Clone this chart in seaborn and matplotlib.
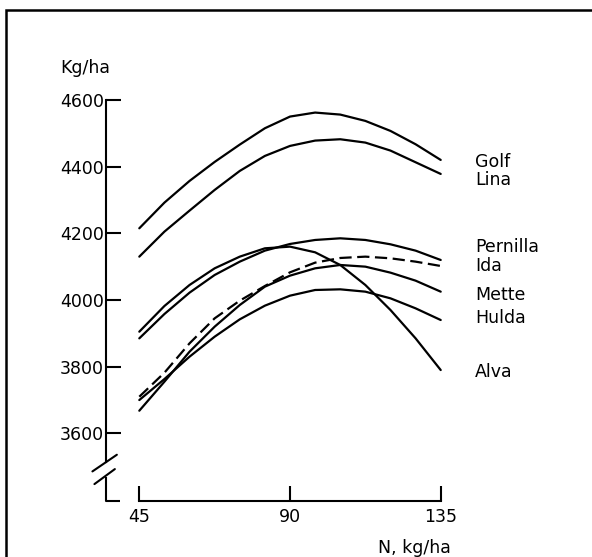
import numpy as np
import pandas as pd
import matplotlib
matplotlib.use("Agg")
import matplotlib.pyplot as plt
import seaborn as sns
from matplotlib.patches import Rectangle

sns.set_theme(style="white")
plt.rcParams['font.family'] = ['DejaVu Sans']

# nitrogen dose, kg/ha
n_dose = [45, 52.5, 60, 67.5, 75, 82.5, 90, 97.5, 105, 112.5, 120, 127.5, 135]

# yield curves, kg/ha
golf = [4215, 4292, 4357, 4414, 4466, 4515, 4550, 4562, 4556, 4537, 4507, 4467, 4420]
lina = [4130, 4205, 4268, 4330, 4387, 4432, 4462, 4478, 4482, 4472, 4448, 4413, 4378]
pernilla = [3885, 3958, 4022, 4075, 4115, 4148, 4168, 4180, 4185, 4180, 4167, 4148, 4120]
ida = [3710, 3782, 3870, 3945, 3998, 4042, 4083, 4112, 4126, 4130, 4125, 4115, 4102]
mette = [3668, 3755, 3845, 3920, 3985, 4040, 4073, 4095, 4105, 4100, 4082, 4058, 4025]
hulda = [3700, 3763, 3830, 3890, 3942, 3983, 4013, 4030, 4032, 4025, 4005, 3975, 3940]
alva = [3905, 3982, 4045, 4095, 4130, 4155, 4160, 4143, 4105, 4045, 3970, 3885, 3790]

varieties = ["Golf", "Lina", "Pernilla", "Ida", "Mette", "Hulda", "Alva"]
series = [golf, lina, pernilla, ida, mette, hulda, alva]
label_y = [4415, 4360, 4160, 4102, 4015, 3946, 3785]

x_ticks = [45, 90, 135]
y_ticks = [3600, 3800, 4000, 4200, 4400, 4600]

W, H = 592, 557
fig = plt.figure(figsize=(W / 100, H / 100), dpi=100)

# axes box in pixels, chosen so data maps onto the reference positions
px_l, px_r, px_t, px_b = 80, 470, 40, 520
ax = fig.add_axes([px_l / W, 1 - px_b / H, (px_r - px_l) / W, (px_b - px_t) / H])
ax.set_facecolor("none")

x_per_px = 1 / 3.349
y_per_px = 2.9985
ax.set_xlim(45 - (139.3 - px_l) * x_per_px, 45 + (px_r - 139.3) * x_per_px)
ax.set_ylim(4000 - (px_b - 300) * y_per_px, 4000 + (300 - px_t) * y_per_px)

for name, vals in zip(varieties, series):
    df = pd.DataFrame({"N": n_dose, "yield": vals})
    if name == "Ida":
        sns.lineplot(data=df, x="N", y="yield", ax=ax, color="black", lw=1.6,
                     linestyle=(0, (5.5, 2.5)))
    else:
        sns.lineplot(data=df, x="N", y="yield", ax=ax, color="black", lw=1.6)

for name, ly in zip(varieties, label_y):
    ax.text(145.2, ly, name, ha="left", va="center", fontsize=12.5, color="black")

# axes styling
y_axis_x = 35.0
x_axis_y = 3397
for s in ["top", "right"]:
    ax.spines[s].set_visible(False)
ax.spines["left"].set_position(("data", y_axis_x))
ax.spines["left"].set_bounds(3514, 4600)
ax.spines["bottom"].set_position(("data", x_axis_y))
ax.spines["bottom"].set_bounds(45, 135)
for s in ["left", "bottom"]:
    ax.spines[s].set_color("black")
    ax.spines[s].set_linewidth(1.5)

ax.set_xticks(x_ticks)
ax.set_yticks(y_ticks)
ax.tick_params(axis="both", direction="in", length=11, width=1.5, color="black",
               labelsize=12.5, labelcolor="black", bottom=True, left=True)
ax.tick_params(axis="y", pad=1.5)
ax.tick_params(axis="x", pad=5)
ax.set_xlabel("")
ax.set_ylabel("")

# broken y-axis: lower stub, foot and break marks
ax.plot([y_axis_x, y_axis_x, 39.3], [3469, x_axis_y, x_axis_y], color="black",
        lw=1.5, clip_on=False, solid_capstyle="butt")
ax.plot([31.0, 38.3], [3486, 3536], color="black", lw=1.5, clip_on=False)
ax.plot([31.6, 37.7], [3448, 3493], color="black", lw=1.5, clip_on=False)

ax.text(21.3, 4697, "Kg/ha", ha="left", va="center", fontsize=12.5, color="black")
ax.text(138.1, 3256, "N, kg/ha", ha="right", va="center", fontsize=12.5, color="black")

# page frame
fig.patches.append(Rectangle((6 / W, -0.1), 1.2, 1.1 - 10 / H, transform=fig.transFigure,
                             fill=False, edgecolor="black", lw=1.8))

fig.savefig("out.png", dpi=100, facecolor="white")
